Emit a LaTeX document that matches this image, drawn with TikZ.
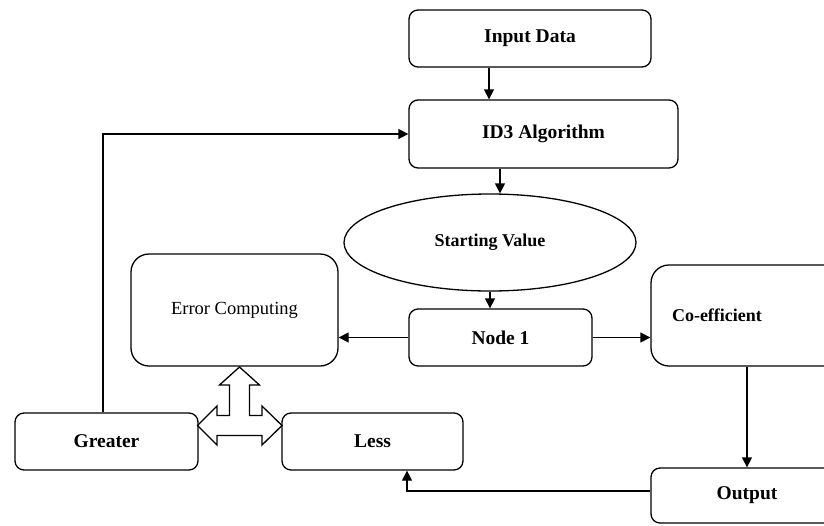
\documentclass[tikz,border=0pt]{standalone}
\usepackage{fontspec}
\setmainfont{Liberation Serif}
\usetikzlibrary{arrows.meta}
\usetikzlibrary{shapes.geometric}

\begin{document}
\begin{tikzpicture}[x=1pt, y=-1pt, line width=1.3pt,
		box/.style={draw, rounded corners=9pt, inner sep=0pt, font=\bfseries\fontsize{19.5}{22}\selectfont},
		bigbox/.style={draw, rounded corners=18pt, inner sep=0pt, font=\bfseries\fontsize{18}{21}\selectfont},
		arr/.style={-{Triangle[length=10pt,width=10pt]}}]
		\useasboundingbox (0,0) rectangle (824,525);
		\node[box, minimum width=242, minimum height=57] (input) at (530,38.5) {Input Data};
		\node[box, minimum width=269, minimum height=68] (id3) at (543.5,134) {ID3 Algorithm};
		\node[draw, ellipse, inner sep=0pt, minimum width=292, minimum height=97, font=\bfseries\fontsize{18}{21}\selectfont] (start) at (490,242.5) {Starting Value};
		\node[box, minimum width=183, minimum height=57] (node1) at (500.5,337.5) {Node 1};
		\node[bigbox, font=\fontsize{18.5}{21}\selectfont, minimum width=207, minimum height=112] (err) at (234.5,310) {Error Computing};
		\node[bigbox, align=left, text width=150, inner xsep=21pt, minimum height=101] (coef) at (747,315.5) {Co-efficient};
		\node[box, minimum width=183, minimum height=57] (greater) at (106.5,441.5) {Greater};
		\node[box, minimum width=181, minimum height=57] (less) at (372.5,441.5) {Less};
		\node[box, minimum width=192, minimum height=55] (output) at (747,495.5) {Output};

		\draw[arr] ([xshift=-41pt]input.south) -- ([xshift=-41pt]input.south |- id3.north);
		\draw[arr] ([xshift=-43.5pt]id3.south) -- ([xshift=-43.5pt]id3.south |- start.north);
		\draw[arr] (start.south) -- (start.south |- node1.north);
		\draw[arr] (node1.west) -- (node1.west -| err.east);
		\draw[arr] (node1.east) -- (node1.east -| coef.west);
		\draw[arr] (coef.south) -- (output.north);
		\draw[arr] ([yshift=4.5pt]output.west) -| ([xshift=34.5pt]less.south);
		\draw[arr] ([xshift=-3.5pt]greater.north) |- (id3.west);

		% three way block arrow
		\draw[shift={(239.5,425.5)}] (0,-58.5) -- (20,-40.5) -- (10,-40.5) -- (10,-10) -- (22.5,-10) -- (22.5,-19.5)
			-- (42.5,0) -- (22.5,19.5) -- (22.5,10) -- (-22.5,10) -- (-22.5,19.5) -- (-42,0) -- (-22.5,-19.5)
			-- (-22.5,-10) -- (-10,-10) -- (-10,-40.5) -- (-20,-40.5) -- cycle;
	\end{tikzpicture}
\end{document}
